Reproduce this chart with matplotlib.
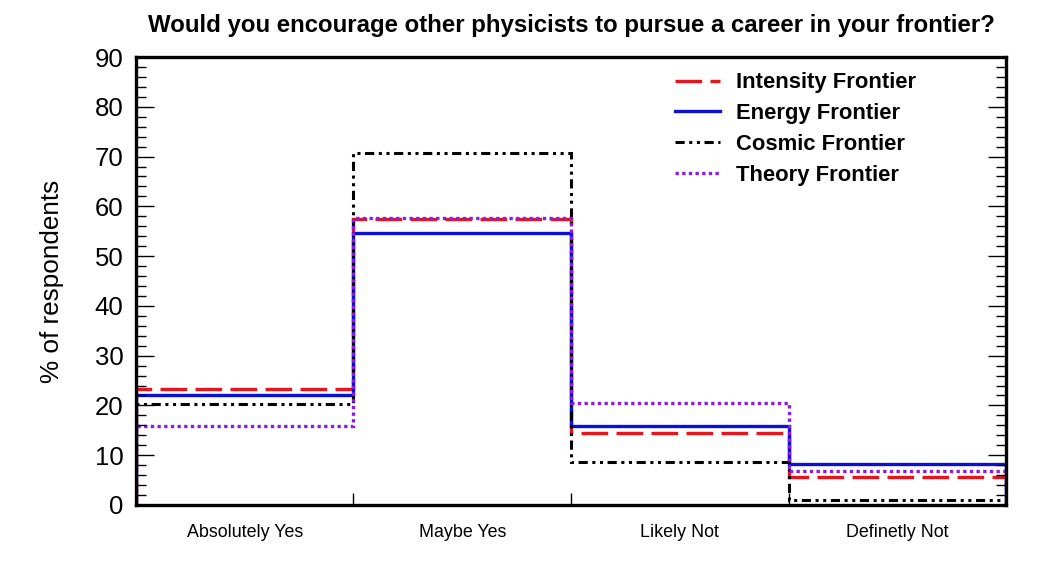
import numpy as np
import matplotlib
matplotlib.use('Agg')
import matplotlib.pyplot as plt

plt.rcParams['font.family'] = ['Liberation Sans', 'DejaVu Sans']

# Survey answers (one bin each)
categories = ['Absolutely Yes', 'Maybe Yes', 'Likely Not', 'Definetly Not']

intensity = [23.3, 57.5, 14.4, 5.6]
energy    = [22.1, 54.6, 15.9, 8.2]
cosmic    = [20.3, 70.7, 8.6, 1.0]
theory    = [15.9, 57.7, 20.5, 6.8]

edges = np.arange(len(categories) + 1)

fig = plt.figure(figsize=(10.59, 5.73), dpi=100)
ax = fig.add_axes([0.1284, 0.1187, 0.8216, 0.7818])

ax.stairs(intensity, edges, color='#e8141c', lw=2.4, ls=(0, (8, 2.5)), label='Intensity Frontier', baseline=0)
ax.stairs(energy, edges, color='#0a10d8', lw=2.4, label='Energy Frontier', baseline=0)
ax.stairs(cosmic, edges, color='black', lw=2.2,
          ls=(0, (3, 1.5, 1, 1.5, 1, 1.5)), label='Cosmic Frontier', baseline=0)
ax.stairs(theory, edges, color='#8a1ee0', lw=2.4, ls=(0, (1, 1)), label='Theory Frontier', baseline=0)

ax.set_xlim(0, 4)
ax.set_ylim(0, 90)

ax.set_xticks(edges)
ax.set_xticklabels([])
ax.set_xticks(edges[:-1] + 0.5, minor=True)
ax.set_xticklabels(categories, minor=True, fontsize=12.9)
ax.tick_params(axis='x', which='major', direction='in', length=9, width=1, top=False)
ax.tick_params(axis='x', which='minor', length=0, pad=14)

ax.set_yticks(np.arange(0, 91, 10))
ax.set_yticks(np.arange(0, 91, 2), minor=True)
ax.tick_params(axis='y', which='major', direction='in', length=13, width=1, right=True,
               labelsize=18.5, pad=9)
ax.tick_params(axis='y', which='minor', direction='in', length=7, width=1, right=True)

for s in ax.spines.values():
    s.set_linewidth(2.4)

ax.set_ylabel('% of respondents', fontsize=18.8, labelpad=22)
ax.set_title('Would you encourage other physicists to pursue a career in your frontier?',
             fontsize=17.3, fontweight='bold', pad=18)

leg = ax.legend(loc='upper left', bbox_to_anchor=(0.62, 0.966), frameon=False,
                borderaxespad=0, borderpad=0,
                prop={'weight': 'bold', 'size': 15.8}, handlelength=2.05,
                labelspacing=0.45, handletextpad=0.73)

fig.savefig('out.png', dpi=100)
